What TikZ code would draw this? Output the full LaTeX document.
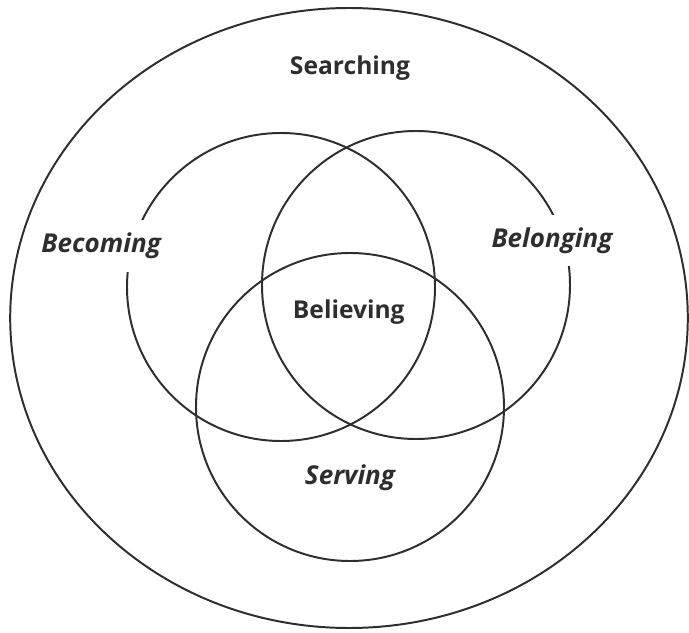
\documentclass[tikz,border=0pt]{standalone}
\usepackage{fontspec}
\setmainfont{Open Sans}
\usepackage{tikz}
\usetikzlibrary{positioning, calc}
\definecolor{inkgray}{HTML}{2E2E2E}
\tikzset{
    ring/.style={draw=inkgray, line width=1.4pt},
    label/.style={text=inkgray, font=\fontsize{17.5}{20}\selectfont\bfseries, inner sep=0pt},
    italabel/.style={label, font=\fontsize{18.5}{20}\selectfont\bfseries\itshape, fill=white, inner xsep=1pt, inner ysep=9pt}
}
\begin{document}
\begin{tikzpicture}
        \useasboundingbox (0,0) rectangle (17.225,-15.825);
        %cerchio esterno
        \draw[ring] (8.725,-7.95) ellipse [x radius=8.47, y radius=7.75];
        %tre cerchi
        \draw[ring] (7.025,-7.175) circle (3.85);
        \draw[ring] (10.4,-7.125) circle (3.85);
        \draw[ring] (8.75,-10.175) circle (3.85);
        %etichette
        \node[label] (searching) at (8.75,-1.7){Searching};
        \node[label] (believing) at (8.72,-7.8){Believing};
        \node[italabel] (becoming) at (2.53,-6.15){Becoming};
        \node[italabel] (belonging) at (13.8,-6.02){Belonging};
        \node[italabel, fill=none] (serving) at (8.75,-11.95){Serving};
    \end{tikzpicture}
\end{document}
